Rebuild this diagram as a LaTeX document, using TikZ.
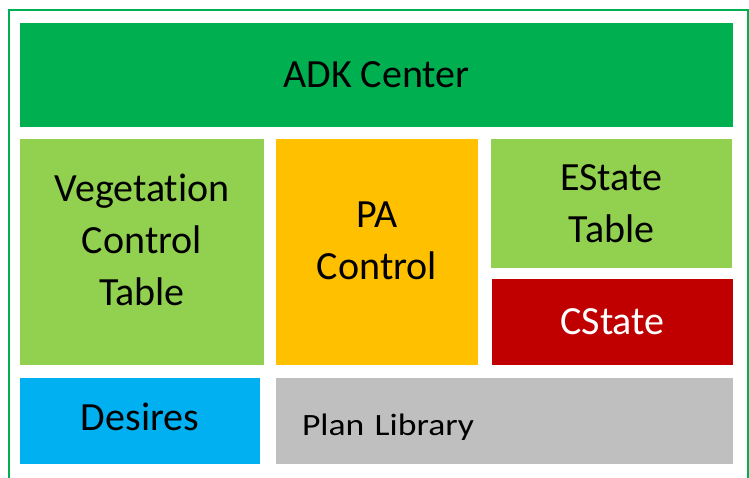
\documentclass[tikz,border=0pt]{standalone}
\usepackage{fontspec}
\setmainfont[Ligatures=CommonOff]{Carlito}
\newfontfamily\widefont[FakeStretch=1.15,Ligatures=CommonOff]{Carlito}

\definecolor{adkgreen}{HTML}{00B050}
\definecolor{leafgreen}{HTML}{92D050}
\definecolor{paorange}{HTML}{FFC000}
\definecolor{statered}{HTML}{C00000}
\definecolor{desireblue}{HTML}{00B0F0}
\definecolor{plangray}{HTML}{BFBFBF}

\tikzset{
  block/.style={inner sep=0pt, align=center, text=black,
    font=\fontsize{40}{52}\selectfont}
}

\begin{document}
\begin{tikzpicture}[x=1pt,y=-1pt]

\fill[white] (0,0) rectangle (749,477);
\useasboundingbox (0,0) rectangle (749,477);
\draw[adkgreen,line width=2pt] (9,478) -- (9,10) -- (748,10) -- (748,478);

\node[block,fill=adkgreen,minimum width=713pt,minimum height=104pt] (adk) at (376.5,75) {ADK Center};

\node[block,fill=leafgreen,minimum width=244pt,minimum height=226pt] (veg) at (142,252) {Vegetation\\Control\\Table\\[-28pt]};
\node[block,fill=paorange,minimum width=202pt,minimum height=226pt] (pa) at (377,252) {PA\\Control\\[-30pt]};
\node[block,fill=leafgreen,minimum width=241pt,minimum height=129pt] (estate) at (611.5,203.5) {EState\\Table};
\node[block,fill=statered,text=white,minimum width=241pt,minimum height=86pt] (cstate) at (612.5,322) {CState};

\node[block,fill=desireblue,minimum width=240pt,minimum height=86pt] (desires) at (140,421) {Desires\\[-44pt]};
\node[block,fill=plangray,minimum height=86pt,text width=405pt,inner xsep=26pt,align=left,
  font=\widefont\fontsize{31}{36}\selectfont] (plan) at (504.5,421) {\rule{0pt}{34pt}Plan Library};

\end{tikzpicture}
\end{document}
